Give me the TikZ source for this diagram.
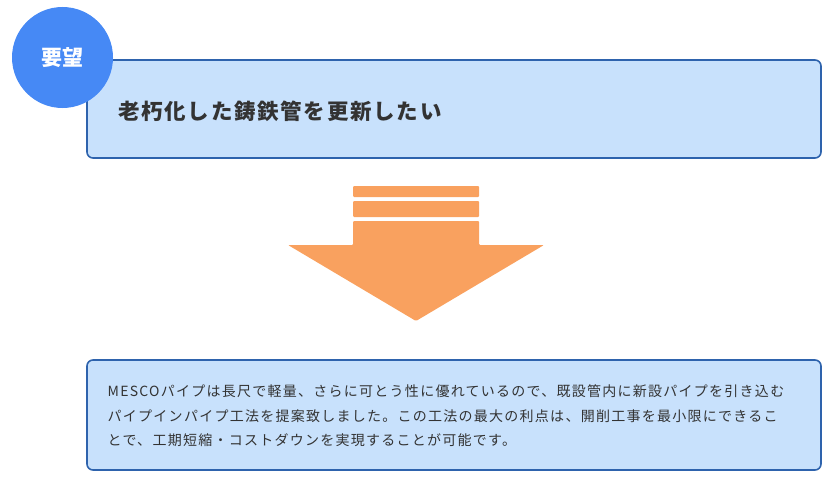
\documentclass[tikz,border=0pt]{standalone}
\usepackage{fontspec}
\newfontfamily\jp{Noto Sans CJK JP}
\newfontfamily\jpsp[LetterSpace=9]{Noto Sans CJK JP}
\newfontfamily\jpbsp[LetterSpace=8]{Noto Sans CJK JP}
\definecolor{boxfill}{HTML}{C8E1FC}
\definecolor{boxline}{HTML}{2E63AD}
\definecolor{badge}{HTML}{4689F5}
\definecolor{arrowc}{HTML}{F9A15F}
\definecolor{txt}{HTML}{333333}
\tikzset{
  panel/.style={draw=boxline, line width=1.6pt, fill=boxfill, rounded corners=6pt},
  badgestyle/.style={circle, fill=badge, minimum size=101pt, inner sep=0pt, text=white, font=\jp\bfseries\fontsize{21}{24}\selectfont},
  arrowpart/.style={fill=arrowc, draw=none},
}
\begin{document}
\begin{tikzpicture}[x=1pt,y=-1pt]
\useasboundingbox (0,0) rectangle (830,487);
% top panel
\draw[panel] (87,60) rectangle (821,158);
\node[badgestyle] (badge) at (62.5,57.5) {要望};
\node[anchor=west, inner sep=0pt, text=txt, font=\jpbsp\bfseries\fontsize{21.5}{24}\selectfont] (need) at (118,111) {老朽化した鋳鉄管を更新したい};
% arrow
\fill[arrowpart, rounded corners=1pt] (353,186) rectangle (479,197);
\fill[arrowpart, rounded corners=1pt] (353,201) rectangle (479,217);
\fill[arrowpart, rounded corners=1pt] (353,221) -- (479,221) -- (479,245) -- (544,245) -- (416,321) -- (288,245) -- (353,245) -- cycle;
% bottom panel
\draw[panel] (87,360) rectangle (821,470);
\node[anchor=base west, inner sep=0pt, align=left, text=txt, font=\jpsp\fontsize{14}{24.5}\selectfont] (desc) at (107.5,445.5)
{MESCOパイプは長尺で軽量、さらに可とう性に優れているので、既設管内に新設パイプを引き込む\\
パイプインパイプ工法を提案致しました。この工法の最大の利点は、開削工事を最小限にできるこ\\
とで、工期短縮・コストダウンを実現することが可能です。};
\end{tikzpicture}
\end{document}
